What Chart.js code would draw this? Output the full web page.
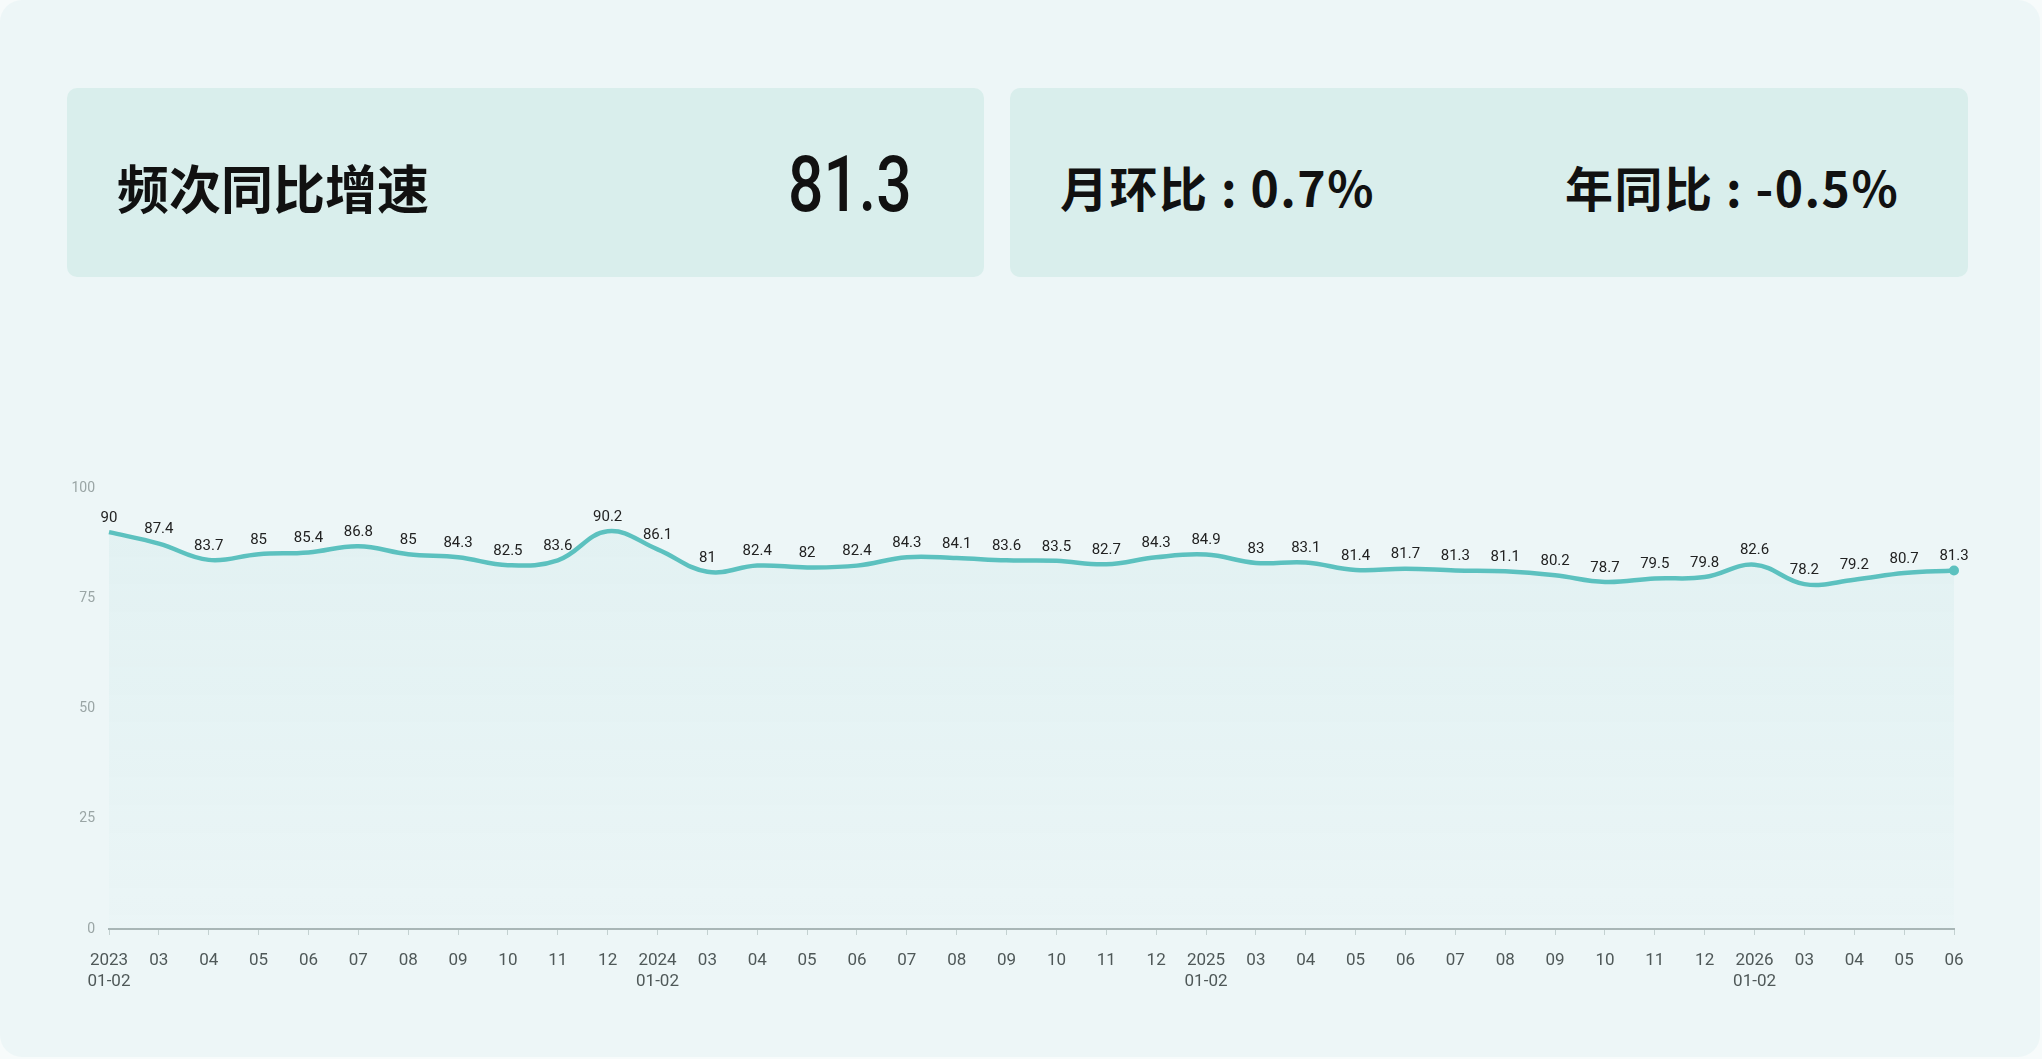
<!DOCTYPE html>
<html>
<head>
<meta charset="utf-8">
<script src="https://cdn.jsdelivr.net/npm/chart.js@4.4.1/dist/chart.umd.min.js"></script>
<style>
  body { margin: 0; width: 2042px; height: 1059px; background: #f7fbfb; overflow: hidden; font-family: "Noto Sans CJK SC", sans-serif; }
  .panel { position: absolute; left: 0; top: 0; width: 2040px; height: 1057px; border-radius: 22px; background: #edf6f7; }
  .card { position: absolute; top: 88px; height: 189px; border-radius: 10px; background: #d9eeec; }
  .txt { position: absolute; top: 0; height: 189px; line-height: 189px; font-weight: 700; color: #111; white-space: nowrap; padding-top: 4px; box-sizing: border-box; }
  .big { position: absolute; right: 72px; top: 0; height: 189px; line-height: 189px; font-family: Roboto, sans-serif; font-weight: 500; font-size: 78px; color: #111; transform: scaleX(0.8); transform-origin: right center; padding-top: 2px; box-sizing: border-box; }
  #wrap { position: absolute; left: 0; top: 440px; width: 2042px; height: 600px; }
</style>
</head>
<body>
<div class="panel"></div>
<div class="card" style="left:67px;width:917px;">
  <span class="txt" style="left:50px;font-size:52px;">频次同比增速</span>
  <span class="big">81.3</span>
</div>
<div class="card" style="left:1010px;width:958px;">
  <span class="txt" style="left:50px;font-size:48px;letter-spacing:1.5px;">月环比 : 0.7%</span>
  <span class="txt" style="left:555px;font-size:48px;letter-spacing:1.5px;">年同比 : -0.5%</span>
</div>
<div id="wrap"><canvas id="trend" width="2042" height="600"></canvas></div>
<script>
// categories (months), values and y ticks
const months = [
  ['2023', '01-02'], '03', '04', '05', '06', '07', '08', '09', '10', '11', '12',
  ['2024', '01-02'], '03', '04', '05', '06', '07', '08', '09', '10', '11', '12',
  ['2025', '01-02'], '03', '04', '05', '06', '07', '08', '09', '10', '11', '12',
  ['2026', '01-02'], '03', '04', '05', '06'
];
const values = [
  90, 87.4, 83.7, 85, 85.4, 86.8, 85, 84.3, 82.5, 83.6, 90.2,
  86.1, 81, 82.4, 82, 82.4, 84.3, 84.1, 83.6, 83.5, 82.7, 84.3,
  84.9, 83, 83.1, 81.4, 81.7, 81.3, 81.1, 80.2, 78.7, 79.5, 79.8,
  82.6, 78.2, 79.2, 80.7, 81.3
];
const yTicks = [0, 25, 50, 75, 100];

// value labels above each point
const pointLabels = {
  id: 'pointLabels',
  afterDatasetsDraw(chart) {
    const ctx = chart.ctx;
    const meta = chart.getDatasetMeta(0);
    ctx.save();
    ctx.font = '15px Roboto';
    ctx.fillStyle = '#222';
    ctx.textAlign = 'center';
    ctx.textBaseline = 'middle';
    meta.data.forEach((pt, i) => ctx.fillText(String(values[i]), pt.x, pt.y - 14));
    ctx.restore();
  }
};

new Chart(document.getElementById('trend'), {
  type: 'line',
  data: {
    labels: months,
    datasets: [{
      data: values,
      borderColor: '#5cc1bf',
      borderWidth: 4.5,
      tension: 0.4,
      fill: 'origin',
      backgroundColor: (c) => {
        const a = c.chart.chartArea;
        if (!a) return 'rgba(92,193,191,0.05)';
        const g = c.chart.ctx.createLinearGradient(0, a.top, 0, a.bottom);
        g.addColorStop(0, 'rgba(92,193,191,0.08)');
        g.addColorStop(1, 'rgba(92,193,191,0.015)');
        return g;
      },
      pointRadius: (c) => c.dataIndex === values.length - 1 ? 5 : 0,
      pointBackgroundColor: '#5cc1bf',
      pointBorderWidth: 0,
      clip: false
    }]
  },
  options: {
    responsive: false,
    animation: false,
    layout: { padding: { top: 48, right: 88, left: 0, bottom: 0 } },
    plugins: { legend: { display: false }, tooltip: { enabled: false } },
    scales: {
      x: {
        afterFit(axis) { axis.height = 111; },
        grid: { display: true, drawOnChartArea: false, drawTicks: true, tickLength: 6, color: '#c3d1d1' },
        border: { display: true, color: '#a9b6b6', width: 2 },
        ticks: { autoSkip: false, maxRotation: 0, padding: 15, color: '#4f5858', font: { family: 'Roboto', size: 17, lineHeight: 1.25 } }
      },
      y: {
        min: 0, max: 100,
        afterFit(axis) { axis.width = 109; },
        afterBuildTicks(axis) { axis.ticks = yTicks.map(v => ({ value: v })); },
        grid: { display: false, drawTicks: false, tickLength: 0 },
        border: { display: false },
        ticks: { padding: 14, color: '#9aa5a5', font: { family: 'Roboto', size: 14 } }
      }
    }
  },
  plugins: [pointLabels]
});
</script>
</body>
</html>
